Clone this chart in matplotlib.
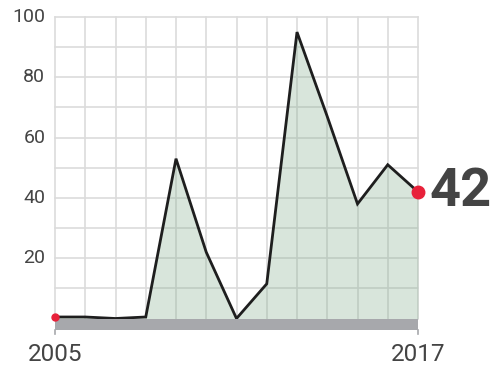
import numpy as np
import matplotlib
matplotlib.use('Agg')
from matplotlib import pyplot as plt

# yearly values
years = [2005, 2006, 2007, 2008, 2009, 2010, 2011, 2012, 2013, 2014, 2015, 2016, 2017]
values = [0.5, 0.5, 0, 0.5, 53, 22, 0, 11.5, 95, 67, 38, 51, 42]
y_ticks = [20, 40, 60, 80, 100]
x_labels = ['2005', '2017']

plt.rcParams['font.family'] = ['Roboto', 'DejaVu Sans']

fig = plt.figure(figsize=(4.94, 3.70), dpi=100)
ax = fig.add_axes([55 / 494, (370 - 318.5) / 370, (418 - 55) / 494, (318.5 - 17) / 370])
ax.set_xlim(years[0], years[-1])
ax.set_ylim(0, 100)

# grid drawn by hand so it stays inside the plot area
grid_color = '#dcdcdc'
for yr in years:
    ax.plot([yr, yr], [0, 100], color=grid_color, lw=1.2, zorder=1, clip_on=False)
for v in range(10, 101, 10):
    ax.plot([years[0], years[-1]], [v, v], color=grid_color, lw=1.2, zorder=1, clip_on=False)

# area and line
ax.fill_between(years, values, 0, color='#7fa98a', alpha=0.3, lw=0, zorder=2)
ax.plot(years, values, color='#1e1e1e', lw=2, zorder=3, solid_joinstyle='miter')

# end points
ax.plot(years[0], values[0], 'o', color='#e8213a', ms=5, zorder=4, clip_on=False)
ax.plot(years[-1], values[-1], 'o', color='#e8213a', ms=9, zorder=4, clip_on=False)
ax.text(years[-1] + 0.38, values[-1], f'{values[-1]}', fontsize=39, fontweight='bold',
        color='#444444', va='center', ha='left')

# gray base bar under the axis
ax.fill_between([years[0], years[-1]], [-3.8, -3.8], [0, 0], color='#a7a8ac', lw=0,
                zorder=2, clip_on=False)
for yr in (years[0], years[-1]):
    ax.plot([yr, yr], [-3.8, -5.3], color='#a7a8ac', lw=1.2, clip_on=False)

for side in ax.spines.values():
    side.set_visible(False)
ax.set_xticks([])
ax.set_yticks([])

for v in y_ticks:
    ax.text(years[0] - 0.32, v, str(v), fontsize=14, color='#444444',
            ha='right', va='center')
for yr, lab in zip([years[0], years[-1]], x_labels):
    ax.text(yr, -12, lab, fontsize=17.5, color='#444444', ha='center', va='center')

plt.savefig('out.png', dpi=100)
